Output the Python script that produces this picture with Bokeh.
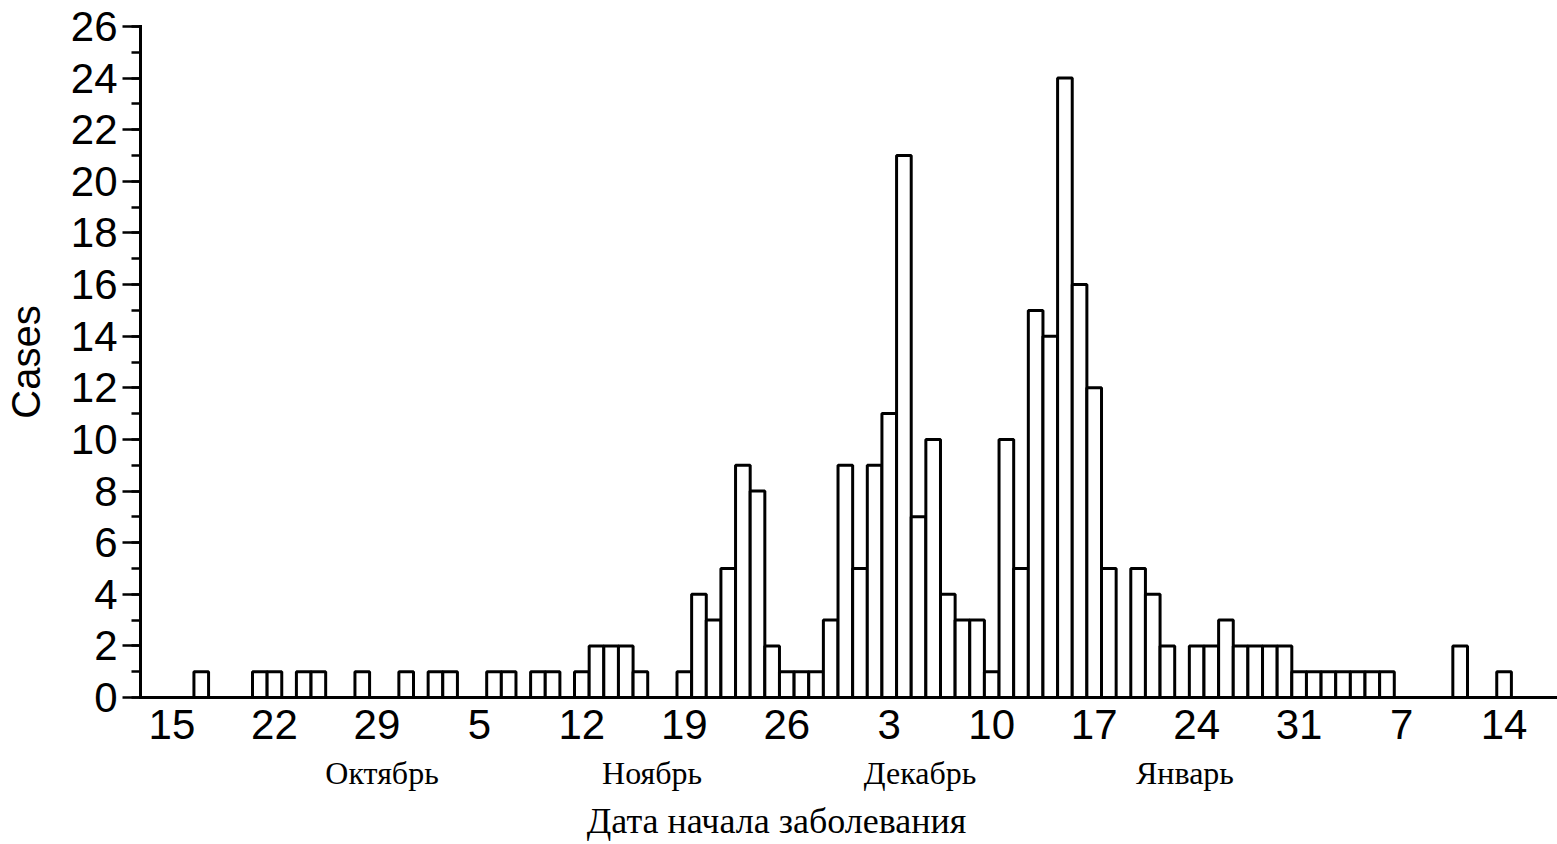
from bokeh.plotting import figure
from bokeh.models import Range1d, FixedTicker, LinearAxis
from bokeh.embed import file_html
from bokeh.resources import INLINE

# Daily case counts by date of onset; day 0 is 15 October, last day 14 January
cases = [
    0, 0, 1, 0, 0, 0, 1, 1, 0, 1,   # Oct 15-24
    1, 0, 0, 1, 0, 0, 1, 0, 1, 1,   # Oct 25 - Nov 3
    0, 0, 1, 1, 0, 1, 1, 0, 1, 2,   # Nov 4-13
    2, 2, 1, 0, 0, 1, 4, 3, 5, 9,   # Nov 14-23
    8, 2, 1, 1, 1, 3, 9, 5, 9, 11,  # Nov 24 - Dec 3
    21, 7, 10, 4, 3, 3, 1, 10, 5, 15,  # Dec 4-13
    14, 24, 16, 12, 5, 0, 5, 4, 2, 0,  # Dec 14-23
    2, 2, 3, 2, 2, 2, 2, 1, 1, 1,   # Dec 24 - Jan 2
    1, 1, 1, 1, 0, 0, 0, 0, 2, 0,   # Jan 3-12
    0, 1,                            # Jan 13-14
]
days = list(range(len(cases)))

# Weekly date ticks (day of month)
week_ticks = [0, 7, 14, 21, 28, 35, 42, 49, 56, 63, 70, 77, 84, 91]
week_labels = ["15", "22", "29", "5", "12", "19", "26", "3", "10", "17", "24", "31", "7", "14"]

# Month captions under the day numbers (positions in days from 15 October)
month_names = ["Октябрь", "Ноябрь", "Декабрь", "Январь"]
month_pos = [14.35, 32.8, 51.1, 69.2]

x_title = "Дата начала заболевания"
x_title_pos = 41.3
y_title = "Cases"

bar_days = [d for d, c in zip(days, cases) if c > 0]
bar_cases = [c for c in cases if c > 0]

p = figure(
    width=1557, height=844,
    output_backend="svg", toolbar_location=None,
    x_range=Range1d(-2.15, 94.65), y_range=Range1d(0, 26),
    min_border_left=137, min_border_right=0,
    min_border_top=26, min_border_bottom=147,
    background_fill_color="white", border_fill_color="white",
)
p.outline_line_color = None
p.xgrid.visible = False
p.ygrid.visible = False

p.vbar(x=bar_days, top=bar_cases, bottom=0, width=1.0,
       fill_color="white", line_color="black", line_width=3)

sans = "Liberation Sans"
serif = "Liberation Serif"

# day-of-month axis
xa = p.xaxis[0]
xa.ticker = FixedTicker(ticks=week_ticks)
xa.major_label_overrides = dict(zip(week_ticks, week_labels))
xa.major_tick_out = 0
xa.major_tick_in = 0
xa.minor_tick_out = 0
xa.minor_tick_in = 0
xa.axis_line_width = 3
xa.axis_line_color = "black"
xa.axis_line_cap = "square"
xa.major_label_text_font = sans
xa.major_label_text_font_size = "42px"
xa.major_label_text_color = "black"
xa.major_label_standoff = 12

# month names axis
ma = LinearAxis(
    ticker=FixedTicker(ticks=month_pos),
    major_label_overrides=dict(zip(month_pos, month_names)),
    axis_line_color=None, major_tick_line_color=None, minor_tick_line_color=None,
    major_label_text_font=serif, major_label_text_font_size="32px",
    major_label_text_color="black", major_label_standoff=7,
)
p.add_layout(ma, "below")

# axis title, placed under the November-December span
ta = LinearAxis(
    ticker=FixedTicker(ticks=[x_title_pos]),
    major_label_overrides={x_title_pos: x_title},
    axis_line_color=None, major_tick_line_color=None, minor_tick_line_color=None,
    major_label_text_font=serif, major_label_text_font_size="36px",
    major_label_text_color="black", major_label_standoff=1,
)
p.add_layout(ta, "below")

# case count axis
ya = p.yaxis[0]
ya.ticker = FixedTicker(ticks=list(range(0, 27, 2)), minor_ticks=list(range(0, 27)))
ya.major_tick_out = 18
ya.major_tick_in = 0
ya.minor_tick_out = 9
ya.minor_tick_in = 0
ya.major_tick_line_width = 2.5
ya.minor_tick_line_width = 2.5
ya.major_tick_line_color = "black"
ya.minor_tick_line_color = "black"
ya.axis_line_width = 3
ya.axis_line_color = "black"
ya.axis_line_cap = "square"
ya.major_label_text_font = sans
ya.major_label_text_font_size = "42px"
ya.major_label_text_color = "black"
ya.major_label_standoff = 5
ya.axis_label = y_title
ya.axis_label_text_font = sans
ya.axis_label_text_font_size = "40px"
ya.axis_label_text_font_style = "normal"
ya.axis_label_text_color = "black"
ya.axis_label_standoff = 20

open("out.html", "w").write(file_html(p, INLINE))
